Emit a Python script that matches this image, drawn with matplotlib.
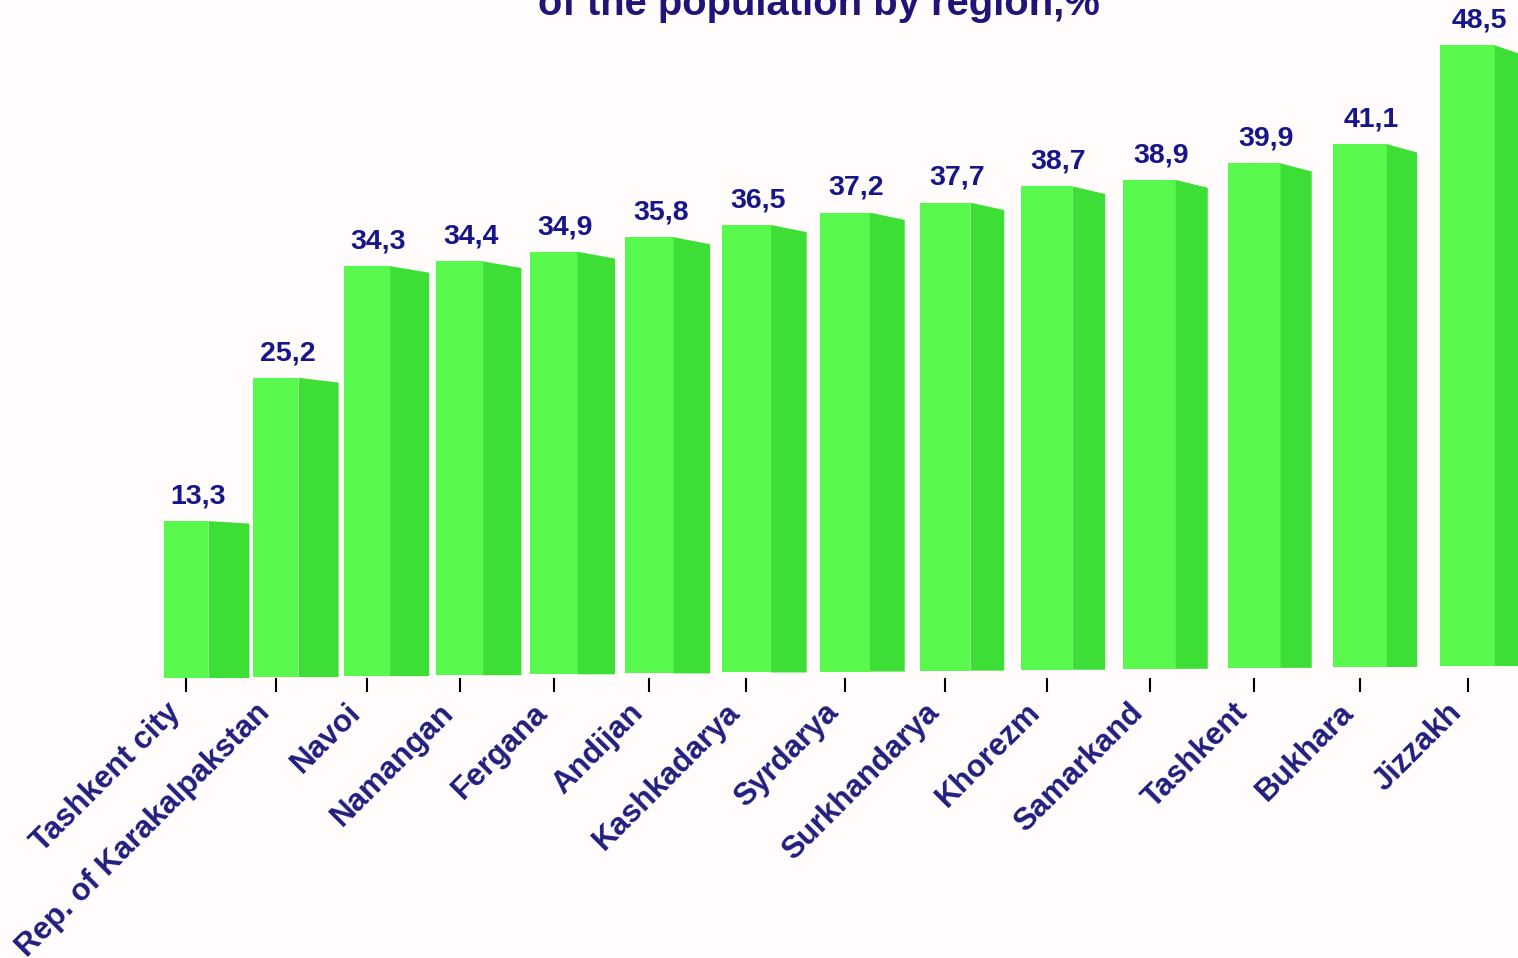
import numpy as np
import matplotlib
matplotlib.use('Agg')
import matplotlib.pyplot as plt

regions = ['Tashkent city', 'Rep. of Karakalpakstan', 'Navoi', 'Namangan', 'Fergana',
           'Andijan', 'Kashkadarya', 'Syrdarya', 'Surkhandarya', 'Khorezm',
           'Samarkand', 'Tashkent', 'Bukhara', 'Jizzakh']
values = [13.3, 25.2, 34.3, 34.4, 34.9, 35.8, 36.5, 37.2, 37.7, 38.7, 38.9, 39.9, 41.1, 48.5]
title_text = 'of the population by region,%'

colors = {
    'front': '#58F84C',
    'side': '#3DDF36',
    'bg': '#FFFCFB',
    'title': '#201478',
    'value': '#16168A',
    'label': '#221E7E',
}

# fake perspective: bars get wider / taller to the right
GROW = 0.0165
FRONT_W = 0.50
SIDE_W0 = 0.457
SIDE_SHRINK = 0.010
Y_GROW = 0.0065
BASE_RISE = 0.078
TOP_DROP = 0.016

plt.rcParams['font.family'] = ['Liberation Sans', 'DejaVu Sans']
plt.rcParams['font.weight'] = 'bold'

fig = plt.figure(figsize=(15.18, 9.58), dpi=100, facecolor=colors['bg'])
ax = fig.add_axes([0, 280 / 958, 1, 678 / 958])
ax.set_facecolor(colors['bg'])
ax.set_xlim(-186 / 89.7, (1518 - 186) / 89.7)
ax.set_ylim(0, 678 / 11.8)

idx = np.arange(len(values))
centers = idx + GROW * idx * (idx - 1) / 2
front_w = FRONT_W * (1 + GROW * idx)
side_w = SIDE_W0 - SIDE_SHRINK * idx
heights = np.array(values) * (1 + Y_GROW * idx)
bases = BASE_RISE * idx
tops = bases + heights

ax.bar(centers, heights, width=front_w, bottom=bases, color=colors['front'], linewidth=0, zorder=2)

for c, fw, sw, b, t, h in zip(centers, front_w, side_w, bases, tops, heights):
    xr = c + fw / 2
    ax.fill([xr, xr + sw, xr + sw, xr], [b, b, t - TOP_DROP * h, t],
            color=colors['side'], linewidth=0, zorder=2)

for c, t, v in zip(centers, tops, values):
    ax.text(c + 0.13, t + 1.5, '{:.1f}'.format(v).replace('.', ','),
            ha='center', va='baseline', fontsize=20.5, fontweight='bold', color=colors['value'])

ax.set_xticks(centers)
ax.set_xticklabels(regions, rotation=45, ha='right', va='top', fontsize=22.5,
                   fontweight='bold', color=colors['label'])
ax.tick_params(axis='x', which='both', length=10, width=1.5, color='black', pad=4,
               bottom=True, top=False)
ax.tick_params(axis='y', which='both', left=False, right=False, labelleft=False)
for s in ax.spines.values():
    s.set_visible(False)

fig.text(819 / 1518, 1 - 15 / 958, title_text, ha='center', va='baseline',
         fontsize=28.8, fontweight='bold', color=colors['title'])

fig.savefig('out.png', dpi=100, facecolor=colors['bg'])
